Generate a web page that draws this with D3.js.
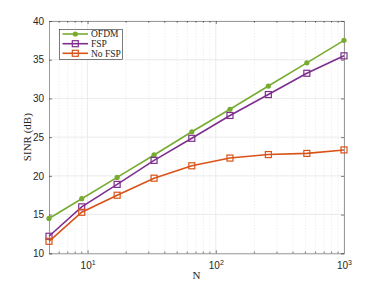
<!DOCTYPE html>
<html lang="en">
<head>
<meta charset="UTF-8">
<title>SINR vs N</title>
<script src="https://d3js.org/d3.v7.min.js"></script>
<style>
    body { margin: 0; background: #fff; }
    svg { display: block; font-family: "Liberation Serif", "DejaVu Serif", serif; }
    .tick text { font-size: 10px; fill: #262626; }
</style>
</head>
<body>
<svg width="380" height="285"></svg>
<script>
    // data
    let nValues = [5, 9, 17, 33, 65, 129, 257, 513, 1000];
    let ofdm = [14.5, 17.05, 19.8, 22.7, 25.7, 28.6, 31.6, 34.6, 37.5];
    let fsp = [12.2, 16.0, 18.9, 22.0, 24.85, 27.8, 30.5, 33.25, 35.5];
    let noFsp = [11.55, 15.3, 17.5, 19.7, 21.3, 22.3, 22.75, 22.9, 23.35];
    let seriesNames = ["OFDM", "FSP", "No FSP"];
    let yTicks = [10, 15, 20, 25, 30, 35, 40];
    let xTicks = [10, 100, 1000];

    let svg = d3.select('svg');
    let margins = {left: 49, right: 36, top: 21, bottom: 31};
    let W = 380, H = 285;

    let xScale = d3.scaleLog().domain([5, 1000]).range([margins.left, W - margins.right]);
    let yScale = d3.scaleLinear().domain([10, 40]).range([H - margins.bottom - 0.7, margins.top]);

    let colors = ["#77ac30", "#7e2f8e", "#d95319"];
    let allSeries = [ofdm, fsp, noFsp];

    // minor x grid (dotted)
    let minor = [];
    for (let d = 1; d <= 100; d *= 10) {
        for (let k = 2; k <= 9; k++) {
            let v = k * d;
            if (v > 5 && v < 1000 && v !== 10 && v !== 100) minor.push(v);
        }
    }
    svg.append('g').selectAll('line').data(minor).enter().append('line')
        .attr('x1', d => xScale(d)).attr('x2', d => xScale(d))
        .attr('y1', yScale(10)).attr('y2', yScale(40))
        .attr('stroke', '#d8d8d8').attr('stroke-width', 0.6)
        .attr('stroke-dasharray', '1,2');

    // major grid
    svg.append('g').selectAll('line').data(xTicks).enter().append('line')
        .attr('x1', d => xScale(d)).attr('x2', d => xScale(d))
        .attr('y1', yScale(10)).attr('y2', yScale(40))
        .attr('stroke', '#e6e6e6').attr('stroke-width', 0.8);
    svg.append('g').selectAll('line').data(yTicks).enter().append('line')
        .attr('x1', xScale(5)).attr('x2', xScale(1000))
        .attr('y1', d => yScale(d)).attr('y2', d => yScale(d))
        .attr('stroke', '#e6e6e6').attr('stroke-width', 0.8);

    // axes
    let xAxis = svg.append('g')
        .attr('transform', 'translate(0,' + yScale(10) + ')')
        .call(d3.axisBottom(xScale).tickValues(xTicks).tickSize(-3).tickPadding(8).tickFormat(() => ''));
    xAxis.selectAll('.tick').each(function (d) {
        let t = d3.select(this).append('text')
            .attr('y', 16).attr('fill', '#262626').attr('text-anchor', 'middle')
            .style('font-size', '10px');
        t.append('tspan').text('10');
        t.append('tspan').attr('dy', -4).style('font-size', '7px').text(Math.round(Math.log10(d)));
    });
    let xAxisTop = svg.append('g')
        .attr('transform', 'translate(0,' + yScale(40) + ')')
        .call(d3.axisTop(xScale).tickValues(xTicks).tickSize(-3).tickFormat(''));
    // minor ticks bottom/top
    svg.append('g').selectAll('line').data(minor).enter().append('line')
        .attr('x1', d => xScale(d)).attr('x2', d => xScale(d))
        .attr('y1', yScale(10)).attr('y2', yScale(10) - 1.8)
        .attr('stroke', '#262626').attr('stroke-width', 0.6);
    svg.append('g').selectAll('line').data(minor).enter().append('line')
        .attr('x1', d => xScale(d)).attr('x2', d => xScale(d))
        .attr('y1', yScale(40)).attr('y2', yScale(40) + 1.8)
        .attr('stroke', '#262626').attr('stroke-width', 0.6);

    let yAxis = svg.append('g')
        .attr('transform', 'translate(' + xScale(5) + ',0)')
        .call(d3.axisLeft(yScale).tickValues(yTicks).tickSize(-3).tickPadding(5));
    let yAxisRight = svg.append('g')
        .attr('transform', 'translate(' + xScale(1000) + ',0)')
        .call(d3.axisRight(yScale).tickValues(yTicks).tickSize(-3).tickFormat(''));

    svg.selectAll('.domain').attr('stroke', '#9a9a9a').attr('stroke-width', 1);
    svg.selectAll('.tick line').attr('stroke', '#262626').attr('stroke-width', 0.6);

    // series lines and markers
    let line = d3.line().x((d, i) => xScale(nValues[i])).y(d => yScale(d));
    allSeries.forEach(function (s, k) {
        svg.append('path').datum(s).attr('d', line)
            .attr('fill', 'none').attr('stroke', colors[k]).attr('stroke-width', 1.6);
        let g = svg.append('g');
        if (k === 0) {
            g.selectAll('circle').data(s).enter().append('circle')
                .attr('cx', (d, i) => xScale(nValues[i])).attr('cy', d => yScale(d))
                .attr('r', 2.6).attr('fill', colors[k]);
        } else {
            g.selectAll('rect').data(s).enter().append('rect')
                .attr('x', (d, i) => xScale(nValues[i]) - 3).attr('y', d => yScale(d) - 3)
                .attr('width', 6).attr('height', 6)
                .attr('fill', 'none').attr('stroke', colors[k]).attr('stroke-width', 1.2);
        }
    });

    // legend
    let legend = svg.append('g');
    legend.append('rect').attr('x', 59.5).attr('y', 29.5).attr('width', 63).attr('height', 30)
        .attr('fill', '#fff').attr('stroke', '#262626').attr('stroke-width', 0.6);
    let rowY = [34, 43.7, 53.3];
    seriesNames.forEach(function (name, k) {
        legend.append('line').attr('x1', 62.5).attr('x2', 88).attr('y1', rowY[k]).attr('y2', rowY[k])
            .attr('stroke', colors[k]).attr('stroke-width', 1.6);
        if (k === 0) {
            legend.append('circle').attr('cx', 75.3).attr('cy', rowY[k]).attr('r', 2.6).attr('fill', colors[k]);
        } else {
            legend.append('rect').attr('x', 72.3).attr('y', rowY[k] - 3).attr('width', 6).attr('height', 6)
                .attr('fill', 'none').attr('stroke', colors[k]).attr('stroke-width', 1.2);
        }
        legend.append('text').attr('x', 91).attr('y', rowY[k] + 3.3)
            .style('font-size', '9.5px').attr('fill', '#262626').text(name);
    });

    // axis labels
    svg.append('text').attr('x', xScale(Math.sqrt(5000))).attr('y', 279)
        .attr('text-anchor', 'middle').style('font-size', '11px').attr('fill', '#262626').text('N');
    svg.append('text')
        .attr('transform', 'translate(31,' + ((yScale(10) + yScale(40)) / 2) + ') rotate(-90)')
        .attr('text-anchor', 'middle').style('font-size', '11px').attr('fill', '#262626').text('SINR (dB)');
</script>
</body>
</html>
